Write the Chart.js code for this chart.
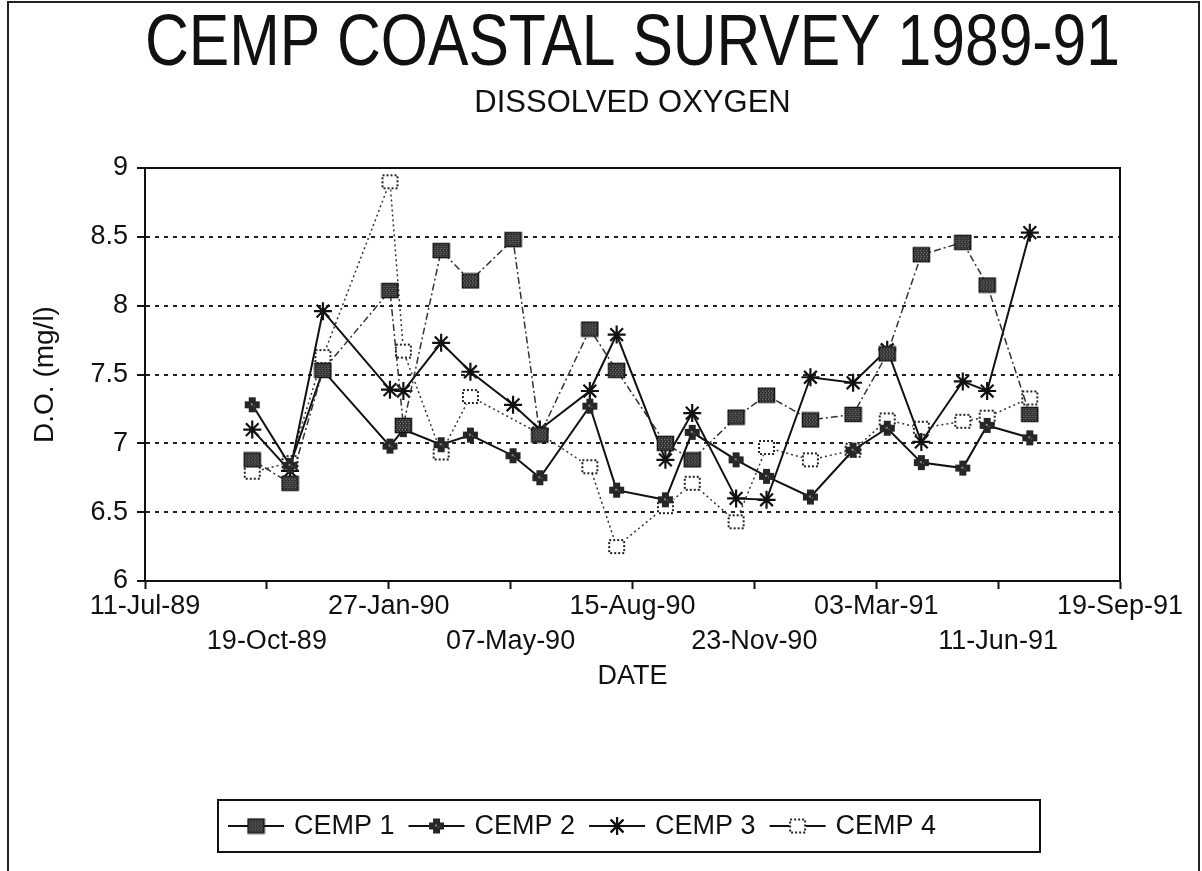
<!DOCTYPE html>
<html><head><meta charset="utf-8">
<script src="https://cdn.jsdelivr.net/npm/chart.js@4.4.0/dist/chart.umd.min.js"></script>
<style>html,body{margin:0;padding:0;background:#fff;}canvas{display:block;}</style>
</head><body>
<canvas id="c" width="1202" height="871"></canvas>
<script>
// ---------- data ----------
const titleText = 'CEMP COASTAL SURVEY 1989-91';
const subtitleText = 'DISSOLVED OXYGEN';
const xAxisTitle = 'DATE';
const yAxisTitle = 'D.O. (mg/l)';
const seriesNames = ['CEMP 1', 'CEMP 2', 'CEMP 3', 'CEMP 4'];
const axisStart = '1989-07-11';
const xTickLabels = ['11-Jul-89','19-Oct-89','27-Jan-90','07-May-90','15-Aug-90','23-Nov-90','03-Mar-91','11-Jun-91','19-Sep-91'];
const xTickStepDays = 100;
const yTickLabels = ['6', '6.5', '7', '7.5', '8', '8.5', '9'];
const yMin = 6, yMax = 9, yStep = 0.5;
const sampleDates = ['1989-10-07','1989-11-07','1989-12-04','1990-01-28','1990-02-08','1990-03-11','1990-04-04','1990-05-09','1990-05-31','1990-07-11','1990-08-02','1990-09-11','1990-10-03','1990-11-08','1990-12-03','1991-01-08','1991-02-12','1991-03-12','1991-04-09','1991-05-13','1991-06-02','1991-07-07'];
const cemp1 = [6.88, 6.71, 7.53, 8.11, 7.13, 8.40, 8.18, 8.48, 7.06, 7.83, 7.53, 7.00, 6.88, 7.19, 7.35, 7.17, 7.21, 7.65, 8.37, 8.46, 8.15, 7.21];
const cemp2 = [7.28, 6.84, 7.53, 6.98, 7.10, 6.99, 7.06, 6.91, 6.75, 7.27, 6.66, 6.59, 7.08, 6.88, 6.76, 6.61, 6.95, 7.11, 6.86, 6.82, 7.13, 7.04];
const cemp3 = [7.10, 6.80, 7.96, 7.39, 7.38, 7.73, 7.52, 7.28, 7.10, 7.38, 7.79, 6.88, 7.22, 6.60, 6.59, 7.48, 7.44, 7.68, 7.01, 7.45, 7.38, 8.53];
const cemp4 = [6.79, 6.86, 7.63, 8.90, 7.67, 6.93, 7.34, null, 7.07, 6.83, 6.25, 6.54, 6.71, 6.43, 6.97, 6.88, 6.95, 7.17, 7.11, 7.16, 7.19, 7.33];

// ---------- helpers ----------
const DAY = 86400000;
function dayOffset(s) {
  const [y, m, d] = s.split('-').map(Number);
  const [y0, m0, d0] = axisStart.split('-').map(Number);
  return Math.round((Date.UTC(y, m - 1, d) - Date.UTC(y0, m0 - 1, d0)) / DAY);
}
const xDays = sampleDates.map(dayOffset);
function pts(vals) { return vals.map((v, i) => ({ x: xDays[i], y: v })); }

const FONT = "'Liberation Sans', Arial, Helvetica, sans-serif";
const NARROW = "'Liberation Sans Narrow', 'Arial Narrow', 'Liberation Sans', Arial, sans-serif";
const INK = '#111';

function squareMarker(filled) {
  const c = document.createElement('canvas'); c.width = 19; c.height = 17;
  const g = c.getContext('2d');
  if (filled) {
    g.fillStyle = '#333'; g.fillRect(1, 1, 17, 15);
    g.fillStyle = '#8a8a8a';
    for (let y = 2; y < 16; y += 2) for (let x = 2 + (y % 4 ? 1 : 0); x < 18; x += 3) g.fillRect(x, y, 1, 1);
    g.strokeStyle = '#151515'; g.lineWidth = 1.5; g.strokeRect(1.5, 1.5, 16, 14);
  } else {
    g.fillStyle = '#fff'; g.fillRect(1, 1, 17, 15);
    g.setLineDash([2, 2]); g.strokeStyle = '#222'; g.lineWidth = 2; g.strokeRect(2, 2, 15, 13);
  }
  return c;
}
function plusMarker() {
  const c = document.createElement('canvas'); c.width = 17; c.height = 17;
  const g = c.getContext('2d');
  g.fillStyle = '#262626';
  g.fillRect(5, 1, 7, 15); g.fillRect(1, 5, 15, 7);
  g.fillStyle = '#888'; g.fillRect(7, 7, 2, 2); g.fillRect(10, 9, 1, 1);
  return c;
}
const mk1 = squareMarker(true), mk2 = plusMarker(), mk4 = squareMarker(false);

// ---------- plugins ----------
const framePlugin = {
  id: 'frame',
  beforeDraw(chart) {
    const ctx = chart.ctx; ctx.save();
    ctx.fillStyle = '#fff'; ctx.fillRect(0, 0, chart.width, chart.height);
    ctx.strokeStyle = '#222'; ctx.lineWidth = 2;
    ctx.beginPath(); ctx.moveTo(8, 871); ctx.lineTo(8, 2); ctx.lineTo(1199, 2); ctx.lineTo(1199, 871); ctx.stroke();
    ctx.restore();
  },
  afterDatasetsDraw(chart) {
    const a = chart.chartArea, ctx = chart.ctx; ctx.save();
    ctx.strokeStyle = INK; ctx.lineWidth = 2;
    ctx.strokeRect(a.left, a.top, a.right - a.left, a.bottom - a.top);
    ctx.restore();
  }
};
const boxLegend = {
  id: 'boxLegend',
  afterDraw(chart, args, o) {
    const ctx = chart.ctx; ctx.save();
    ctx.strokeStyle = INK; ctx.lineWidth = 2;
    ctx.strokeRect(o.left, o.top, o.width, o.height);
    ctx.font = '27px ' + FONT; ctx.fillStyle = INK; ctx.textBaseline = 'middle'; ctx.textAlign = 'left';
    const cy = o.top + o.height / 2;
    let x = o.left + 10;
    chart.data.datasets.forEach(ds => {
      ctx.setLineDash([]); ctx.strokeStyle = INK; ctx.lineWidth = 2;
      ctx.beginPath(); ctx.moveTo(x, cy); ctx.lineTo(x + 56, cy); ctx.stroke();
      const ps = ds.pointStyle;
      if (typeof ps === 'string') {
        Chart.helpers.drawPoint(ctx, { pointStyle: ps, radius: ds.pointRadius, borderWidth: ds.pointBorderWidth }, x + 28, cy);
        ctx.strokeStyle = INK; ctx.lineWidth = ds.pointBorderWidth; ctx.stroke();
      } else {
        ctx.drawImage(ps, x + 28 - ps.width / 2, cy - ps.height / 2);
      }
      ctx.fillText(ds.label, x + 66, cy + 1);
      x += 66 + ctx.measureText(ds.label).width + 14;
    });
    ctx.restore();
  }
};

// ---------- chart ----------
const datasets = [
  { label: seriesNames[0], data: pts(cemp1), borderColor: '#333', borderWidth: 1.5, borderDash: [7, 3, 2, 3], pointStyle: mk1, pointRadius: 8 },
  { label: seriesNames[1], data: pts(cemp2), borderColor: INK, borderWidth: 2, borderDash: [], pointStyle: mk2, pointRadius: 8 },
  { label: seriesNames[2], data: pts(cemp3), borderColor: INK, borderWidth: 2, borderDash: [], pointStyle: 'star', pointRadius: 9, pointBorderWidth: 2.2, pointBorderColor: INK, pointBackgroundColor: INK },
  { label: seriesNames[3], data: pts(cemp4), borderColor: '#333', borderWidth: 1.5, borderDash: [2, 3], pointStyle: mk4, pointRadius: 8, spanGaps: true }
];

new Chart(document.getElementById('c'), {
  type: 'line',
  data: { datasets },
  options: {
    responsive: false, animation: false, devicePixelRatio: 1,
    layout: { padding: { left: 0, right: 82, top: 0, bottom: 178 } },
    elements: { line: { tension: 0, fill: false } },
    plugins: {
      legend: { display: false },
      tooltip: { enabled: false },
      title: { display: true, fullSize: false, text: titleText, color: INK, font: { family: NARROW, size: 73, weight: 'normal', lineHeight: 1 }, padding: { top: 8.5, bottom: 0 } },
      subtitle: { display: true, fullSize: false, text: subtitleText, color: INK, font: { family: NARROW, size: 31, weight: 'normal', lineHeight: 1 }, padding: { top: 6, bottom: 49.5 } },
      boxLegend: { left: 218, top: 800, width: 822, height: 52 }
    },
    scales: {
      x: {
        type: 'linear', position: 'bottom', min: 0, max: (xTickLabels.length - 1) * xTickStepDays,
        afterFit(s) { s.height = 112; },
        ticks: {
          stepSize: xTickStepDays, autoSkip: false, maxRotation: 0, minRotation: 0, padding: 0,
          color: INK, font: { family: FONT, size: 27, lineHeight: 1.3 },
          callback(v) { const i = Math.round(v / xTickStepDays); const t = xTickLabels[i]; return i % 2 ? ['', t] : t; }
        },
        grid: { drawOnChartArea: false, drawTicks: true, tickLength: 8, tickWidth: 2, tickColor: INK, color: INK },
        border: { display: true, color: INK, width: 2 },
        title: { display: true, text: xAxisTitle, color: INK, font: { family: FONT, size: 27, lineHeight: 1.2 }, padding: { top: 0, bottom: 0 } }
      },
      y: {
        min: yMin, max: yMax,
        afterFit(s) { s.width = 145; },
        ticks: {
          stepSize: yStep, padding: 9, color: INK, font: { family: FONT, size: 27 },
          callback(v) { const i = Math.round((v - yMin) / yStep); return yTickLabels[i]; }
        },
        grid: {
          drawOnChartArea: true, drawTicks: true, tickLength: 8, tickWidth: 2, tickColor: INK, lineWidth: 2,
          color: c => (c.tick && (c.tick.value === yMin || c.tick.value === yMax)) ? 'rgba(0,0,0,0)' : '#222'
        },
        border: { display: true, color: INK, width: 2, dash: [4, 5] },
        title: { display: true, text: yAxisTitle, color: INK, font: { family: FONT, size: 28, lineHeight: 1.2 }, padding: { top: 28, bottom: 0 } }
      }
    }
  },
  plugins: [framePlugin, boxLegend]
});
</script>
</body></html>
